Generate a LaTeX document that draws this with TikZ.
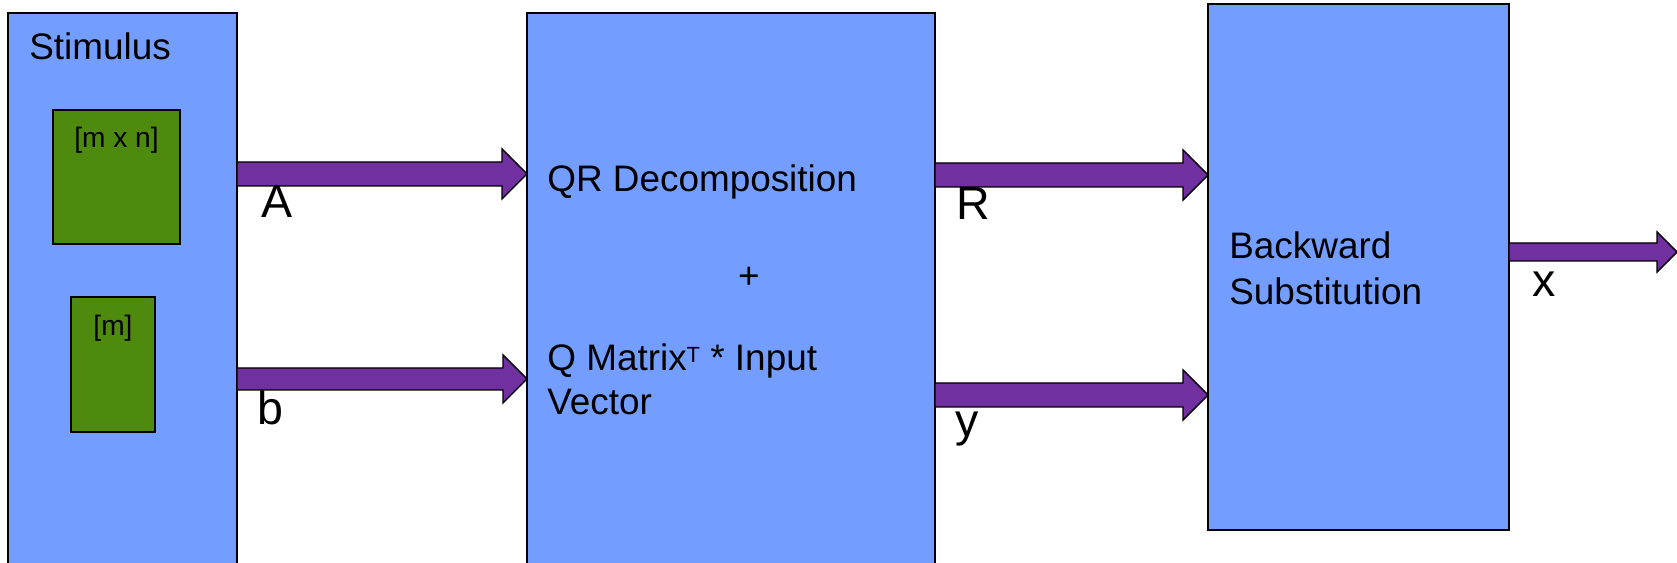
\documentclass[tikz,border=0pt]{standalone}
\usepackage{fontspec}
\setmainfont{Liberation Sans}
\usetikzlibrary{calc,positioning}
\definecolor{Sky}{HTML}{739EFF}
\definecolor{Leaf}{HTML}{4E8A0E}
\definecolor{Plum}{HTML}{7030A0}
\tikzset{
  stagebox/.style={draw,line width=0.8pt,fill=Sky,outer sep=0pt,inner sep=0pt,anchor=north west},
  matbox/.style={draw,line width=0.8pt,fill=Leaf,outer sep=0pt,inner sep=0pt,anchor=north west},
  fatbody/.style={draw,line width=0.8pt,fill=Plum,line join=miter},
  txt/.style={inner sep=0pt,font=\fontsize{21}{25.6}\selectfont,align=left},
  smalltxt/.style={inner sep=0pt,font=\fontsize{16}{19}\selectfont},
  sigtxt/.style={inner sep=0pt,font=\fontsize{26.5}{30}\selectfont},
}
\newcommand{\tsup}[1]{\raisebox{0.15cm}{\fontsize{12.5}{13}\selectfont #1}}
% block arrow: from, to, level, half shaft, half head
\newcommand{\fatarrow}[5]{%
  \filldraw[fatbody] ($(#1 |- #3)+(0,-#4)$) -- ($(#2 |- #3)+(-#5,-#4)$) -- ($(#2 |- #3)+(-#5,-#5)$)
    -- (#2 |- #3) -- ($(#2 |- #3)+(-#5,#5)$) -- ($(#2 |- #3)+(-#5,#4)$) -- ($(#1 |- #3)+(0,#4)$) -- cycle;}

\begin{document}
\begin{tikzpicture}[x=0.02cm,y=-0.02cm]
  \clip (0,0) rectangle (1677,563);
  \fill[white] (0,0) rectangle (1677,563);
  % stages
  \node[stagebox,minimum width=4.58cm,minimum height=11.8cm] (stim) at (8,13) {};
  \node[matbox,minimum width=2.54cm,minimum height=2.68cm] (mat) at (53,110) {};
  \node[matbox,minimum width=1.68cm,minimum height=2.7cm] (vec) at (71,297) {};
  \node[stagebox,minimum width=8.16cm,minimum height=11.8cm] (qr) at (527,13) {};
  \node[stagebox,minimum width=6.02cm,minimum height=10.52cm] (bs) at (1208,4) {};
  % texts (multi-line ones sit on their last baseline)
  \node[txt,anchor=base west] (stimtxt) at (29,60) {Stimulus};
  \node[smalltxt,anchor=base] (mattxt) at ($(mat.north)+(0,38)$) {[m x n]};
  \node[smalltxt,anchor=base] (vectxt) at ($(vec.north)+(0,39)$) {[m]};
  \node[txt,anchor=base west] (qrtxt) at (547,192) {QR Decomposition};
  \node[txt,anchor=base] (plus) at (749,289) {+};
  \node[txt,anchor=base west] (qtxt) at (547,415) {Q Matrix\tsup{T} * Input\\Vector};
  \node[txt,font=\fontsize{21}{26.7}\selectfont,anchor=base west] (bstxt) at (1229,305) {Backward\\Substitution};
  % arrows
  \coordinate (lvA) at (0,174);
  \coordinate (lvb) at (0,379);
  \coordinate (lvR) at (0,175);
  \coordinate (lvy) at (0,395);
  \coordinate (out) at (1677,252);
  \fatarrow{stim.east}{qr.west}{lvA}{12}{25}
  \fatarrow{stim.east}{qr.west}{lvb}{11}{24}
  \fatarrow{qr.east}{bs.west}{lvR}{12}{25}
  \fatarrow{qr.east}{bs.west}{lvy}{12}{25}
  \fatarrow{bs.east}{out}{out}{9}{20}
  \node[sigtxt,anchor=base west] (sigA) at (261,218) {A};
  \node[sigtxt,anchor=base west] (sigb) at (257,425) {b};
  \node[sigtxt,anchor=base west] (sigR) at (956,220) {R};
  \node[sigtxt,anchor=base west] (sigy) at (955,437) {y};
  \node[sigtxt,anchor=base west] (sigx) at (1532,297) {x};
\end{tikzpicture}
\end{document}
